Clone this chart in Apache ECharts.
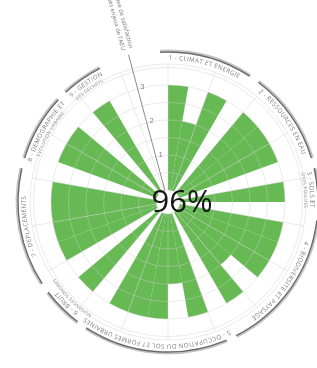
<!DOCTYPE html>
<html>
<head>
<meta charset="utf-8">
<style>
  html, body { margin: 0; padding: 0; background: #fff; }
  #main { width: 317px; height: 368px; }
</style>
<script src="https://cdn.jsdelivr.net/npm/echarts@6/dist/echarts.min.js"></script>
</head>
<body>
<div id="main"></div>
<script>
// 36 secteurs de 10°, sens horaire depuis midi
const slots = Array.from({ length: 36 }, (_, i) => i * 10 + '°');
const scores = [3, 2, 3, 0, 3, 3, 3, 0, 3, 0, 3, 3, 3, 2, 3, 0, 3, 2, 3, 3, 3, 0, 3, 0, 3, 3, 3, 3, 0, 3, 3, 0, 3, 0, 0, 0];

// thèmes AEU : libellés (1 ou 2 lignes) et secteurs couverts
const themeNames = [
  ['1 - CLIMAT ET ENERGIE'],
  ['2 - RESSOURCES EN EAU'],
  ['3 - SOLS ET', 'SITES POLLUES'],
  ['4 - BIODIVERSITE ET PAYSAGE'],
  ['5 - OCCUPATION DU SOL ET FORMES URBAINES'],
  ['6 - BRUIT', 'NUISANCES SONORES'],
  ['7 - DEPLACEMENTS'],
  ['8 - DEMOGRAPHIE ET', 'EVOLUTION URBAINE'],
  ['9 - GESTION', 'DES DECHETS']
];
const themeFirst = [0, 4, 8, 10, 16, 22, 24, 29, 32];
const themeLast = [2, 6, 8, 14, 20, 22, 27, 30, 32];

const axisTitle = ['axe de satisfaction', "des enjeux de l'AEU"];
const score = '96%';

// mise en page
const CX = 168, CY = 202, R0 = 12, UNIT = 35;
const AXIS_ANGLE = -15; // axe de satisfaction, degrés depuis midi
const deg = Math.PI / 180;
const FONT_1 = '6.2px "Open Sans", sans-serif';
const FONT_2 = '4.6px "Open Sans", sans-serif';

const ctx = document.createElement('canvas').getContext('2d');

// texte courbe le long d'un arc, haut des lettres vers l'extérieur
function arcText(str, r, midDeg, font, spacing) {
  ctx.font = font;
  const chars = [...str];
  const widths = chars.map(ch => ctx.measureText(ch).width + spacing);
  const total = widths.reduce((a, b) => a + b, 0);
  let a = midDeg * deg - total / 2 / r;
  return chars.map((ch, i) => {
    const th = a + widths[i] / 2 / r;
    a += widths[i] / r;
    return {
      type: 'text',
      x: CX + r * Math.sin(th),
      y: CY - r * Math.cos(th),
      rotation: -th,
      silent: true,
      style: {
        text: ch, font: font, fill: '#7d7d7d',
        align: 'center', verticalAlign: 'bottom',
        textAlign: 'center', textVerticalAlign: 'bottom'
      }
    };
  });
}

const elements = [];
themeNames.forEach((lines, i) => {
  const a0 = themeFirst[i] * 10 - 3;
  const a1 = (themeLast[i] + 1) * 10 + 3;
  const arcShape = r => ({ cx: CX, cy: CY, r: r, startAngle: (a0 - 90) * deg, endAngle: (a1 - 90) * deg, clockwise: true });
  elements.push({ type: 'arc', silent: true, shape: arcShape(151.3), style: { stroke: '#c4c4c4', lineWidth: 2.2, fill: null } });
  elements.push({ type: 'arc', silent: true, shape: arcShape(150), style: { stroke: '#6a6a6a', lineWidth: 1.4, fill: null } });
  const mid = (a0 + a1) / 2;
  elements.push(...arcText(lines[0], 141, mid, FONT_1, 0.35));
  if (lines[1]) elements.push(...arcText(lines[1], 135, mid, FONT_2, 0.25));
});

// titre de l'axe
const tr = 158;
elements.push({
  type: 'text', silent: true,
  x: CX + tr * Math.sin(AXIS_ANGLE * deg),
  y: CY - tr * Math.cos(AXIS_ANGLE * deg),
  rotation: -(90 + AXIS_ANGLE) * deg,
  style: {
    text: axisTitle.join('\n'), font: '6px "Open Sans", sans-serif', fill: '#777', lineHeight: 8,
    align: 'right', verticalAlign: 'middle', textAlign: 'right', textVerticalAlign: 'middle'
  }
});

// score global
elements.push({
  type: 'text', silent: true, x: 182, y: 203, z: 100,
  style: {
    text: score, font: '31px "Open Sans", sans-serif', fill: '#151515',
    align: 'center', verticalAlign: 'middle', textAlign: 'center', textVerticalAlign: 'middle'
  }
});

const chart = echarts.init(document.getElementById('main'));
const gridColor = 'rgba(205,205,205,0.42)';

chart.setOption({
  animation: false,
  polar: [
    { center: [CX, CY], radius: [R0, R0 + 3.6 * UNIT] },
    { center: [CX, CY], radius: [R0, R0 + 4 * UNIT] }
  ],
  angleAxis: [
    {
      polarIndex: 0, type: 'category', data: slots, startAngle: 90, clockwise: true, z: 5,
      axisLine: { show: false }, axisTick: { show: false }, axisLabel: { show: false },
      splitLine: { show: true, lineStyle: { color: gridColor, width: 1 } }
    },
    {
      polarIndex: 1, type: 'value', startAngle: 90 - AXIS_ANGLE, min: 0, max: 360,
      axisLine: { show: false }, axisTick: { show: false }, axisLabel: { show: false },
      splitLine: { show: false }
    }
  ],
  radiusAxis: [
    {
      polarIndex: 0, type: 'value', min: 0, max: 3.6, interval: 0.5, z: 5,
      axisLine: { show: false }, axisTick: { show: false }, axisLabel: { show: false },
      splitLine: { show: true, lineStyle: { color: gridColor, width: 1 } }
    },
    {
      polarIndex: 1, type: 'value', min: 0, max: 4, interval: 1, z: 6,
      axisLine: { show: true, lineStyle: { color: '#8a8a8a', width: 1 } },
      axisTick: { show: false },
      axisLabel: {
        show: true, fontSize: 7, color: '#777', margin: -7,
        formatter: v => (v >= 1 && v <= 3 ? String(v) : '')
      },
      splitLine: { show: false }
    }
  ],
  series: [
    {
      type: 'bar', coordinateSystem: 'polar', polarIndex: 0,
      data: scores, barCategoryGap: '0%', barGap: '0%',
      itemStyle: { color: '#67b954' },
      silent: true
    }
  ],
  graphic: { elements: elements }
});
</script>
</body>
</html>
